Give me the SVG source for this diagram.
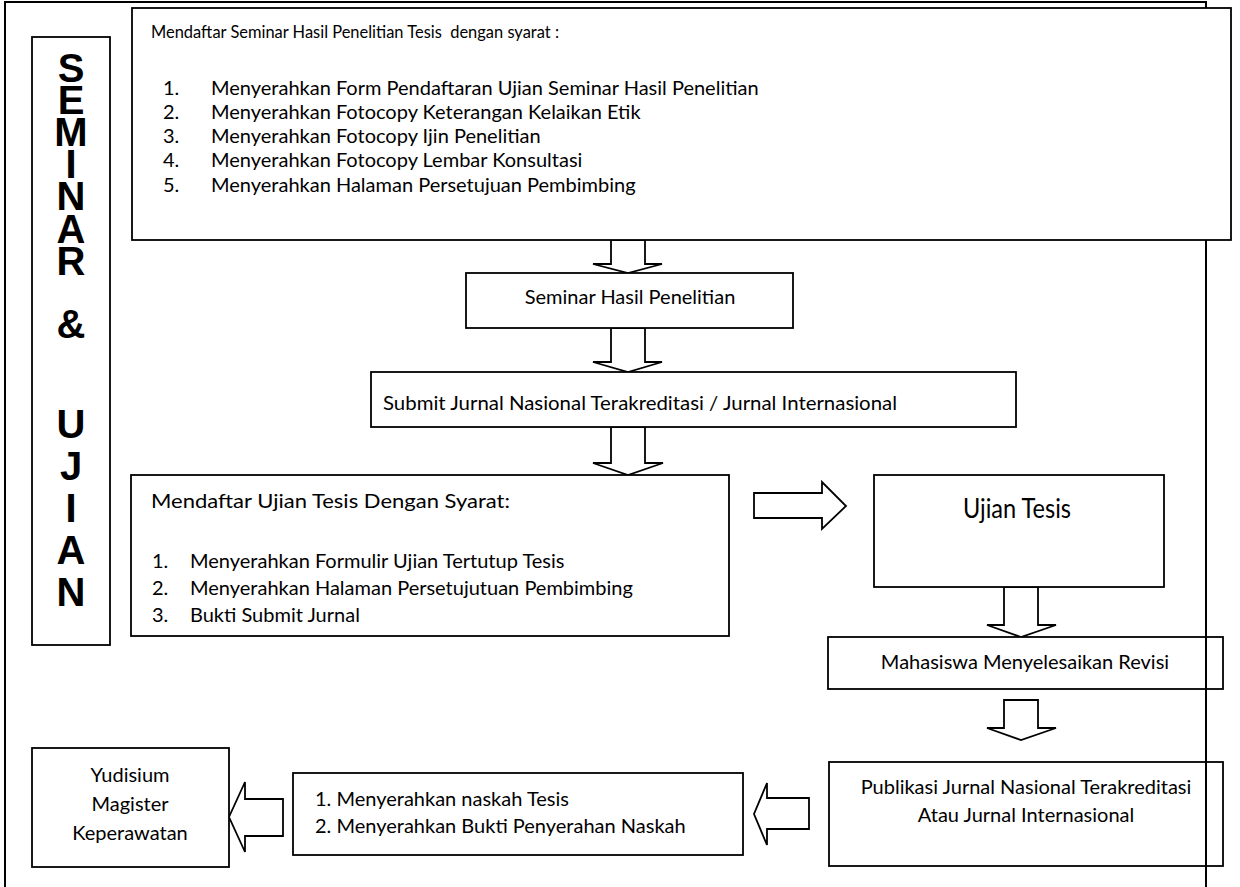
<svg xmlns="http://www.w3.org/2000/svg" width="1240" height="887" viewBox="0 0 1240 887">
<style>
.box{fill:#fff;stroke:#000;stroke-width:1.8}
.arr{fill:#fff;stroke:#000;stroke-width:1.8;stroke-linejoin:miter}
.t{font-family:Lato,"Liberation Sans",sans-serif;font-size:20px;fill:#000}
.h{font-family:Lato,"Liberation Sans",sans-serif;font-size:18px;fill:#000}
.c{text-anchor:middle}
.v{font-family:"Liberation Sans Narrow","Liberation Sans",Arial,sans-serif;font-weight:bold;font-size:40px;text-anchor:middle;fill:#000}
.frame{fill:none;stroke:#000;stroke-width:2}
</style>
<rect width="1240" height="887" fill="#fff"/>

<g id="side">
<rect class="box" x="32" y="37" width="78" height="608"/>
<text class="v"><tspan x="71" y="82">S</tspan><tspan x="71" y="114">E</tspan><tspan x="71" y="146">M</tspan><tspan x="71" y="178">I</tspan><tspan x="71" y="210">N</tspan><tspan x="71" y="243">A</tspan><tspan x="71" y="275">R</tspan><tspan x="71" y="338">&amp;</tspan><tspan x="71" y="438">U</tspan><tspan x="71" y="480">J</tspan><tspan x="71" y="522">I</tspan><tspan x="71" y="564">A</tspan><tspan x="71" y="606">N</tspan></text>
</g>

<g id="connectors">
<polygon class="arr" points="611,240 645,240 645,264 662,264 628,273 593,264 611,264"/>
<polygon class="arr" points="611,328 645,328 645,362 662,362 628,372 593,362 611,362"/>
<polygon class="arr" points="611,427 645,427 645,463 663,463 628,475 593,463 611,463"/>
<polygon class="arr" points="754,493 822,493 822,482 846,506 822,529 822,518 754,518"/>
<polygon class="arr" points="1004,587 1038,587 1038,625 1056,625 1021,637 987,625 1004,625"/>
<polygon class="arr" points="1004,700 1038,700 1038,728 1056,728 1021,740 987,728 1004,728"/>
<polygon class="arr" points="809,798 809,829 767,829 767,845 754,814 767,783 767,798"/>
<polygon class="arr" points="283,799 283,836 245,836 245,852 229,817 245,782 245,799"/>
</g>

<g id="seminar">
<rect class="box" x="466" y="273" width="327" height="55"/>
<text class="t c" x="630" y="304">Seminar Hasil Penelitian</text>
</g>

<g id="submit">
<rect class="box" x="371" y="372" width="645" height="55"/>
<text class="t" x="383" y="410" textLength="514" lengthAdjust="spacingAndGlyphs">Submit Jurnal Nasional Terakreditasi / Jurnal Internasional</text>
</g>

<g id="daftar-ujian">
<rect class="box" x="131" y="475" width="598" height="161"/>
<text class="t" x="151" y="508" textLength="359" lengthAdjust="spacingAndGlyphs">Mendaftar Ujian Tesis Dengan Syarat:</text>
<text class="t" x="152" y="568">1.</text>
<text class="t" x="190" y="568">Menyerahkan Formulir Ujian Tertutup Tesis</text>
<text class="t" x="152" y="595">2.</text>
<text class="t" x="190" y="595">Menyerahkan Halaman Persetujutuan Pembimbing</text>
<text class="t" x="152" y="622">3.</text>
<text class="t" x="190" y="622">Bukti Submit Jurnal</text>
</g>

<g id="ujian-tesis">
<rect class="box" x="874" y="475" width="290" height="112"/>
<text class="t c" x="1017" y="518" style="font-size:26px" textLength="108" lengthAdjust="spacingAndGlyphs">Ujian Tesis</text>
</g>

<g id="revisi">
<rect class="box" x="828" y="637" width="395" height="52"/>
<text class="t c" x="1025" y="669">Mahasiswa Menyelesaikan Revisi</text>
</g>

<g id="publikasi">
<rect class="box" x="829" y="762" width="394" height="104"/>
<text class="t c" x="1026" y="794">Publikasi Jurnal Nasional Terakreditasi</text>
<text class="t c" x="1026" y="822">Atau Jurnal Internasional</text>
</g>

<g id="naskah">
<rect class="box" x="293" y="773" width="450" height="82"/>
<text class="t" x="315" y="806">1. Menyerahkan naskah Tesis</text>
<text class="t" x="315" y="833">2. Menyerahkan Bukti Penyerahan Naskah</text>
</g>

<g id="yudisium">
<rect class="box" x="32" y="748" width="197" height="119"/>
<text class="t c" x="130" y="782">Yudisium</text>
<text class="t c" x="130" y="811">Magister</text>
<text class="t c" x="130" y="840">Keperawatan</text>
</g>

<g id="frame">
<path class="frame" d="M5,887 V2 H1206 V8 M1206,240 V887"/>
</g>

<g id="syarat-seminar">
<rect class="box" x="132" y="8" width="1099" height="232"/>
<text class="h" x="151" y="38" xml:space="preserve" textLength="408" lengthAdjust="spacingAndGlyphs">Mendaftar Seminar Hasil Penelitian Tesis  dengan syarat :</text>
<text class="t" x="163" y="95">1.</text>
<text class="t" x="211" y="95">Menyerahkan Form Pendaftaran Ujian Seminar Hasil Penelitian</text>
<text class="t" x="163" y="119">2.</text>
<text class="t" x="211" y="119">Menyerahkan Fotocopy Keterangan Kelaikan Etik</text>
<text class="t" x="163" y="143">3.</text>
<text class="t" x="211" y="143">Menyerahkan Fotocopy Ijin Penelitian</text>
<text class="t" x="163" y="167">4.</text>
<text class="t" x="211" y="167">Menyerahkan Fotocopy Lembar Konsultasi</text>
<text class="t" x="163" y="192">5.</text>
<text class="t" x="211" y="192">Menyerahkan Halaman Persetujuan Pembimbing</text>
</g>
</svg>
